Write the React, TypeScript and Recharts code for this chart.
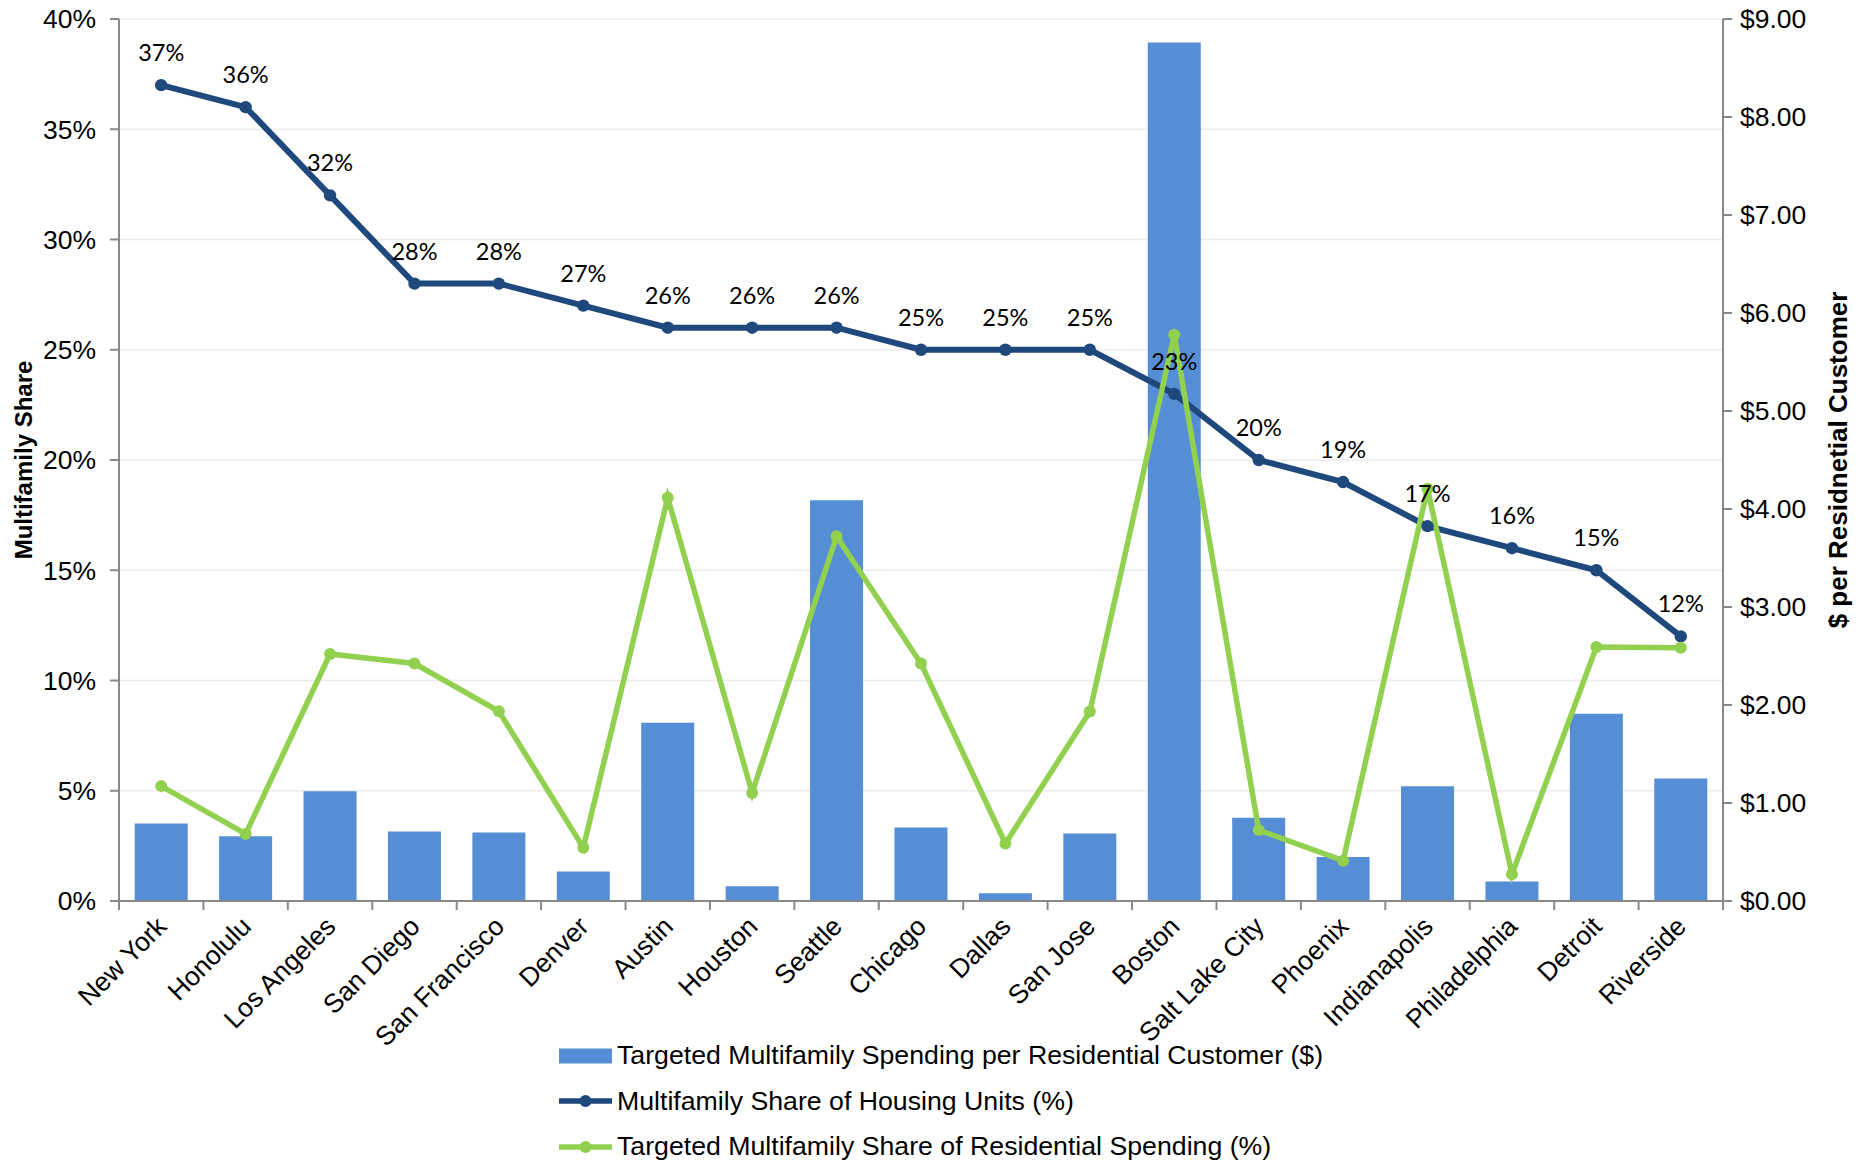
import React from 'react';
import {
  ComposedChart,
  Bar,
  Line,
  XAxis,
  YAxis,
  CartesianGrid,
  Legend,
  LabelList,
} from 'recharts';

const cities = [
  'New York', 'Honolulu', 'Los Angeles', 'San Diego', 'San Francisco', 'Denver',
  'Austin', 'Houston', 'Seattle', 'Chicago', 'Dallas', 'San Jose', 'Boston',
  'Salt Lake City', 'Phoenix', 'Indianapolis', 'Philadelphia', 'Detroit', 'Riverside',
];
const spendingPerCustomer = [
  0.79, 0.66, 1.12, 0.71, 0.7, 0.3, 1.82, 0.15, 4.09, 0.75, 0.08, 0.69, 8.76,
  0.85, 0.45, 1.17, 0.2, 1.91, 1.25,
];
const housingShare = [37, 36, 32, 28, 28, 27, 26, 26, 26, 25, 25, 25, 23, 20, 19, 17, 16, 15, 12];
const spendingShare = [
  5.21, 3.04, 11.2, 10.77, 8.6, 2.42, 18.29, 4.9, 16.54, 10.77, 2.61, 8.59, 25.68,
  3.22, 1.83, 18.7, 1.21, 11.52, 11.49,
];
const leftTicks = [0, 5, 10, 15, 20, 25, 30, 35, 40];
const rightTicks = [0, 1, 2, 3, 4, 5, 6, 7, 8, 9];

const seriesNames = [
  'Targeted Multifamily Spending per Residential Customer ($)',
  'Multifamily Share of Housing Units (%)',
  'Targeted Multifamily Share of Residential Spending (%)',
];

const BAR_COLOR = '#558ED5';
const NAVY = '#1F497D';
const GREEN = '#92D050';
const AXIS = '#898989';
const ARIAL = '"Liberation Sans", Arial, sans-serif';

const data = cities.map((city, i) => ({
  city,
  spending: spendingPerCustomer[i],
  housing: housingShare[i],
  share: spendingShare[i],
}));

const CityTick = (props: any) => {
  const { x, y, payload, index, visibleTicksCount } = props;
  const off = payload && payload.offset != null ? payload.offset : 0;
  const tx = x + 7;
  const ty = y + 27;
  return (
    <g>
      <line x1={x - off} y1={y} x2={x - off} y2={y + 9} stroke={AXIS} strokeWidth={2} />
      {index === visibleTicksCount - 1 && (
        <line x1={x + off} y1={y} x2={x + off} y2={y + 9} stroke={AXIS} strokeWidth={2} />
      )}
      <text
        x={tx}
        y={ty}
        transform={`rotate(-45, ${tx}, ${ty})`}
        textAnchor="end"
        fontSize={26.5}
        fontFamily={ARIAL}
        fill="#000"
      >
        {payload.value}
      </text>
    </g>
  );
};

const LegendContent = () => (
  <div style={{ fontFamily: ARIAL, fontSize: 26.7, color: '#000', lineHeight: 1 }}>
    {seriesNames.map((name, i) => (
      <div key={name} style={{ display: 'flex', alignItems: 'center', height: 45.5 }}>
        <svg width={54} height={20} style={{ display: 'block' }}>
          {i === 0 ? (
            <rect x={0} y={2.5} width={53} height={15} fill={BAR_COLOR} />
          ) : (
            <g>
              <line x1={0} y1={10} x2={53} y2={10} stroke={i === 1 ? NAVY : GREEN} strokeWidth={5.5} />
              <circle cx={26.5} cy={10} r={6} fill={i === 1 ? NAVY : GREEN} />
            </g>
          )}
        </svg>
        <span style={{ marginLeft: 4, whiteSpace: 'nowrap' }}>{name}</span>
      </div>
    ))}
  </div>
);

export default function App() {
  return (
    <div style={{ position: 'absolute', left: 0, top: 0, width: 1865, height: 1167, background: '#fff' }}>
      <ComposedChart
        width={1865}
        height={1167}
        data={data}
        margin={{ top: 19, right: 0, bottom: 0, left: 0 }}
        barCategoryGap="18.6%"
      >
        <CartesianGrid yAxisId="left" vertical={false} stroke="#ececec" strokeWidth={1.5} />
        <XAxis
          dataKey="city"
          height={266}
          interval={0}
          tickSize={0}
          tickMargin={0}
          tickLine={false}
          axisLine={{ stroke: AXIS, strokeWidth: 2 }}
          tick={<CityTick />}
        />
        <YAxis
          yAxisId="left"
          width={119}
          domain={[0, 40]}
          ticks={leftTicks}
          interval={0}
          tickFormatter={(v: number) => `${v}%`}
          tickSize={9}
          tickMargin={14}
          tickLine={{ stroke: AXIS, strokeWidth: 2 }}
          axisLine={{ stroke: AXIS, strokeWidth: 2 }}
          tick={{ fontSize: 26.5, fontFamily: ARIAL, fill: '#000' }}
          label={{
            value: 'Multifamily Share',
            angle: -90,
            position: 'insideLeft',
            offset: 0,
            dx: 23,
            style: { fontSize: 24, fontWeight: 700, fontFamily: ARIAL, fill: '#000', textAnchor: 'middle' },
          }}
        />
        <YAxis
          yAxisId="right"
          orientation="right"
          width={142}
          domain={[0, 9]}
          ticks={rightTicks}
          interval={0}
          tickFormatter={(v: number) => `$${v.toFixed(2)}`}
          tickSize={9}
          tickMargin={8}
          tickLine={{ stroke: AXIS, strokeWidth: 2 }}
          axisLine={{ stroke: AXIS, strokeWidth: 2 }}
          tick={{ fontSize: 26.5, fontFamily: ARIAL, fill: '#000' }}
          label={{
            value: '$ per Residnetial Customer',
            angle: -90,
            position: 'insideRight',
            offset: 0,
            dx: -27,
            style: { fontSize: 26, fontWeight: 700, fontFamily: ARIAL, fill: '#000', textAnchor: 'middle' },
          }}
        />
        <Legend
          layout="horizontal"
          verticalAlign="middle"
          align="center"
          content={<LegendContent />}
          wrapperStyle={{ top: 1033, left: 559, width: 'auto', height: 'auto' }}
        />
        <Bar
          yAxisId="right"
          dataKey="spending"
          name={seriesNames[0]}
          fill={BAR_COLOR}
          isAnimationActive={false}
        />
        <Line
          yAxisId="left"
          dataKey="housing"
          name={seriesNames[1]}
          stroke={NAVY}
          strokeWidth={6}
          dot={{ r: 6.2, fill: NAVY, stroke: NAVY, strokeWidth: 0 }}
          activeDot={false}
          isAnimationActive={false}
        />
        <Line
          yAxisId="left"
          dataKey="share"
          name={seriesNames[2]}
          stroke={GREEN}
          strokeWidth={5.5}
          dot={{ r: 6, fill: GREEN, stroke: GREEN, strokeWidth: 0 }}
          activeDot={false}
          isAnimationActive={false}
        />
        <Line
          yAxisId="left"
          dataKey="housing"
          name="housing-labels"
          legendType="none"
          stroke="none"
          dot={false}
          activeDot={false}
          isAnimationActive={false}
        >
          <LabelList
            dataKey="housing"
            position="top"
            offset={24}
            formatter={(v: any) => `${v}%`}
            style={{ fontSize: 23.5, fontFamily: 'Lato, "Open Sans", sans-serif', fill: '#000' }}
          />
        </Line>
      </ComposedChart>
    </div>
  );
}
